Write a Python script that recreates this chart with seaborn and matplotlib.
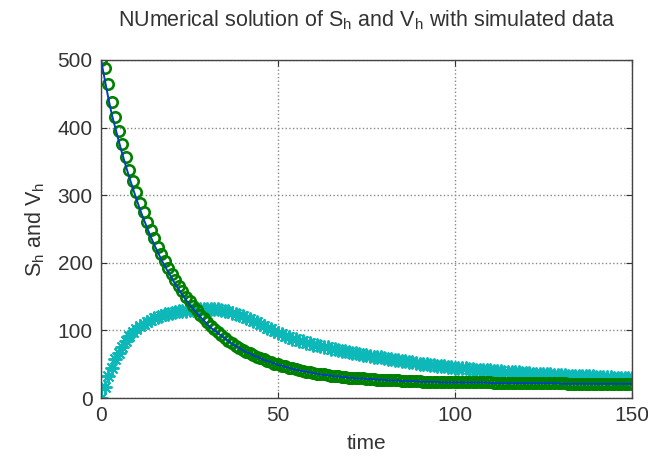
import matplotlib
matplotlib.use('Agg')
import matplotlib.pyplot as plt
import seaborn as sns

# time points of the simulation
time = list(range(0, 151))

# S_h : numerical solution (line)
s_h_line = [500, 472, 445, 420, 400, 380, 361, 343, 326, 310,
            294, 279, 265, 252, 239, 227, 216, 205, 195, 186,
            177, 168, 160, 152, 145, 138, 132, 126, 120, 115,
            109, 104, 100, 96, 92, 88, 84, 80, 77, 74,
            71, 68, 66, 63, 61, 59, 56, 55, 53, 51,
            49, 48, 46, 45, 43, 42, 41, 40, 39, 38,
            37, 36, 35, 34, 34, 33, 32, 32, 31, 31,
            30, 30, 29, 29, 29, 28, 28, 28, 27, 27,
            27, 26, 26, 26, 26, 25, 25, 25, 25, 25,
            24, 24, 24, 24, 24, 24, 23, 23, 23, 23,
            23, 23, 23, 23, 23, 23, 23, 23, 23, 23,
            22, 22, 22, 22, 22, 22, 22, 22, 22, 22,
            22, 22, 22, 22, 22, 22, 22, 22, 22, 22,
            21, 21, 21, 21, 21, 21, 21, 21, 21, 21,
            21, 21, 21, 21, 21, 21, 21, 21, 21, 21,
            21]

# S_h : simulated data (circles)
s_h_data = [500, 488, 464, 438, 416, 395, 375, 356, 338, 321,
            305, 289, 275, 261, 248, 236, 224, 213, 203, 193,
            183, 174, 166, 158, 150, 143, 136, 130, 123, 118,
            112, 106, 102, 97, 93, 89, 85, 81, 77, 74,
            71, 68, 66, 64, 61, 59, 57, 55, 53, 51,
            50, 48, 47, 45, 44, 43, 41, 40, 39, 38,
            37, 36, 36, 35, 34, 33, 33, 32, 31, 31,
            30, 30, 30, 29, 29, 28, 28, 28, 27, 27,
            27, 26, 26, 26, 26, 25, 25, 25, 25, 25,
            25, 24, 24, 24, 24, 24, 24, 23, 23, 23,
            23, 23, 23, 23, 23, 23, 23, 23, 23, 23,
            23, 22, 22, 22, 22, 22, 22, 22, 22, 22,
            22, 22, 22, 22, 22, 22, 22, 22, 22, 22,
            22, 22, 21, 21, 21, 21, 21, 21, 21, 21,
            21, 21, 21, 21, 21, 21, 21, 21, 21, 21,
            21]

# V_h (asterisks)
v_h = [0, 17, 32, 45, 57, 67, 76, 84, 91, 97,
       102, 106, 110, 113, 116, 118, 120, 122, 124, 125,
       126, 127, 128, 129, 129, 130, 130, 130, 131, 131,
       132, 132, 131, 131, 130, 129, 128, 126, 125, 123,
       122, 119, 117, 114, 112, 109, 107, 104, 102, 99,
       96, 94, 92, 90, 88, 87, 85, 84, 82, 81,
       79, 78, 77, 76, 75, 73, 72, 71, 70, 69,
       68, 67, 66, 65, 64, 63, 62, 61, 61, 60,
       59, 58, 57, 56, 56, 55, 54, 53, 53, 52,
       51, 51, 50, 49, 49, 48, 47, 47, 46, 46,
       45, 45, 44, 44, 43, 43, 42, 42, 42, 41,
       41, 40, 40, 40, 39, 39, 38, 38, 38, 37,
       37, 37, 36, 36, 36, 35, 35, 35, 34, 34,
       34, 34, 33, 33, 33, 33, 32, 32, 32, 32,
       31, 31, 31, 31, 31, 30, 30, 30, 30, 30,
       29]

x_ticks = [0, 50, 100, 150]
y_ticks = [0, 100, 200, 300, 400, 500]

sns.set_style('white')
plt.rcParams['font.family'] = ['Liberation Sans', 'DejaVu Sans']
plt.rcParams['mathtext.fontset'] = 'custom'
plt.rcParams['mathtext.rm'] = 'Liberation Sans'
plt.rcParams['mathtext.it'] = 'Liberation Sans'

fig = plt.figure(figsize=(6.48, 4.58), dpi=100)
ax = fig.add_axes([0.156, 0.131, 0.819, 0.738])

green = (0, 0.5, 0)
cyan = (0.05, 0.72, 0.72)

sns.lineplot(x=time, y=v_h, ax=ax, color=cyan, linestyle='none', marker=(8, 2, 0),
             markersize=10, markeredgecolor=cyan, markeredgewidth=1.4)
sns.lineplot(x=time, y=s_h_data, ax=ax, color=green, linestyle='none', marker='o',
             markersize=7.5, markerfacecolor='none', markeredgecolor=green,
             markeredgewidth=1.9)
sns.lineplot(x=time, y=s_h_line, ax=ax, color=(0, 0.25, 0.75), linewidth=1.4)

ax.set_xlim(0, 150)
ax.set_ylim(0, 500)
ax.set_xticks(x_ticks)
ax.set_yticks(y_ticks)
ax.tick_params(direction='in', length=4, labelsize=15, colors='#333333', pad=6,
               top=True, right=True, bottom=True, left=True)
ax.grid(True, linestyle=':', color='#888888', linewidth=1.0)
for sp in ax.spines.values():
    sp.set_color('#444444')
    sp.set_linewidth(1.0)

ax.set_title(r'NUmerical solution of S$_\mathregular{h}$ and V$_\mathregular{h}$ with simulated data',
             fontsize=15.5, color='#333333', pad=24)
ax.set_xlabel('time', fontsize=15, color='#333333', labelpad=6)
ax.set_ylabel(r'S$_\mathregular{h}$ and V$_\mathregular{h}$', fontsize=15.5, color='#333333', labelpad=8)

fig.savefig('out.png', dpi=100)
